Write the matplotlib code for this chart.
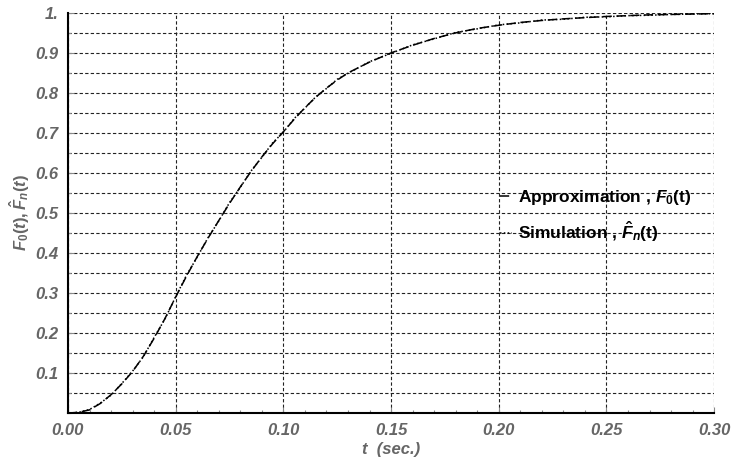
import matplotlib
matplotlib.use('Agg')
import matplotlib.pyplot as plt
from matplotlib.ticker import MultipleLocator, FixedLocator, FixedFormatter

plt.rcParams['font.family'] = ['Liberation Sans', 'DejaVu Sans']
plt.rcParams['mathtext.fontset'] = 'custom'
plt.rcParams['mathtext.rm'] = 'Liberation Sans:bold'
plt.rcParams['mathtext.it'] = 'Liberation Sans:italic:bold'
plt.rcParams['mathtext.bf'] = 'Liberation Sans:bold'

# values
t_sec = [0.000, 0.005, 0.010, 0.015, 0.020, 0.025, 0.030, 0.035, 0.040, 0.045,
         0.050, 0.055, 0.060, 0.065, 0.070, 0.075, 0.080, 0.085, 0.090, 0.095,
         0.100, 0.105, 0.110, 0.115, 0.120, 0.125, 0.130, 0.140, 0.150, 0.160,
         0.170, 0.180, 0.190, 0.200, 0.210, 0.220, 0.230, 0.240, 0.250, 0.260,
         0.270, 0.280, 0.290, 0.300]
f0_approx = [0.000, 0.002, 0.008, 0.024, 0.046, 0.073, 0.104, 0.142, 0.187, 0.236,
             0.290, 0.342, 0.391, 0.437, 0.481, 0.524, 0.565, 0.604, 0.640, 0.673,
             0.703, 0.734, 0.763, 0.789, 0.812, 0.832, 0.850, 0.877, 0.900, 0.919,
             0.936, 0.950, 0.961, 0.969, 0.976, 0.981, 0.985, 0.988, 0.991, 0.993,
             0.995, 0.996, 0.997, 0.998]
fn_sim = [0.000, 0.002, 0.009, 0.025, 0.045, 0.074, 0.105, 0.141, 0.189, 0.235,
          0.291, 0.344, 0.390, 0.438, 0.480, 0.526, 0.564, 0.605, 0.639, 0.675,
          0.702, 0.736, 0.762, 0.790, 0.811, 0.834, 0.849, 0.878, 0.899, 0.920,
          0.935, 0.951, 0.960, 0.970, 0.975, 0.982, 0.984, 0.989, 0.990, 0.993,
          0.994, 0.996, 0.997, 0.998]

y_ticks = [0.1, 0.2, 0.3, 0.4, 0.5, 0.6, 0.7, 0.8, 0.9, 1.0]
y_labels = ['0.1', '0.2', '0.3', '0.4', '0.5', '0.6', '0.7', '0.8', '0.9', '1.']
x_ticks = [0.00, 0.05, 0.10, 0.15, 0.20, 0.25, 0.30]
x_labels = ['0.00', '0.05', '0.10', '0.15', '0.20', '0.25', '0.30']

label_gray = '#666666'

fig = plt.figure(figsize=(7.31, 4.59), dpi=100)
ax = fig.add_axes([0.093, 0.100, 0.884, 0.872])

ax.plot(t_sec, f0_approx, color='black', linewidth=1.1, linestyle=(0, (6, 3)),
        label=r'Approximation , $F_0$(t)')
ax.plot(t_sec, fn_sim, color='black', linewidth=1.1, linestyle=(0, (1, 1.5)),
        label=r'Simulation , $\hat{F}_n$(t)')

ax.set_xlim(0, 0.30)
ax.set_ylim(0, 1.0)

ax.xaxis.set_major_locator(FixedLocator(x_ticks))
ax.xaxis.set_major_formatter(FixedFormatter(x_labels))
ax.xaxis.set_minor_locator(MultipleLocator(0.01))
ax.yaxis.set_major_locator(FixedLocator(y_ticks))
ax.yaxis.set_major_formatter(FixedFormatter(y_labels))
ax.yaxis.set_minor_locator(MultipleLocator(0.05))

# dashed grid: vertical every 0.05, horizontal every 0.05
ax.grid(True, which='major', axis='both', color='#222222', linestyle=(0, (3, 2)), linewidth=0.8)
ax.grid(True, which='minor', axis='y', color='#222222', linestyle=(0, (3, 2)), linewidth=0.8)

for side in ['top', 'right']:
    ax.spines[side].set_visible(False)
for side in ['left', 'bottom']:
    ax.spines[side].set_linewidth(1.5)
    ax.spines[side].set_color('black')

ax.tick_params(axis='both', which='both', direction='in', colors='#888888',
               labelcolor=label_gray, labelsize=12)
ax.tick_params(which='major', length=4, width=0.8, pad=7)
ax.tick_params(which='minor', length=2.5, width=0.8)
for lbl in ax.get_xticklabels() + ax.get_yticklabels():
    lbl.set_fontweight('bold')
    lbl.set_fontstyle('italic')

ax.set_xlabel('t  (sec.)', fontsize=12, fontweight='bold', fontstyle='italic',
              color=label_gray, labelpad=3)
ax.set_ylabel(r'$F_0(t),\hat{F}_n(t)$', fontsize=12, color=label_gray, labelpad=2)

leg = ax.legend(loc='center left', bbox_to_anchor=(0.669, 0.493), frameon=False,
                fontsize=12.5, handlelength=0.7, handletextpad=0.3,
                labelspacing=0.75, borderaxespad=0, borderpad=0)
for txt in leg.get_texts():
    txt.set_fontweight('bold')

fig.savefig('out.png', dpi=100)
